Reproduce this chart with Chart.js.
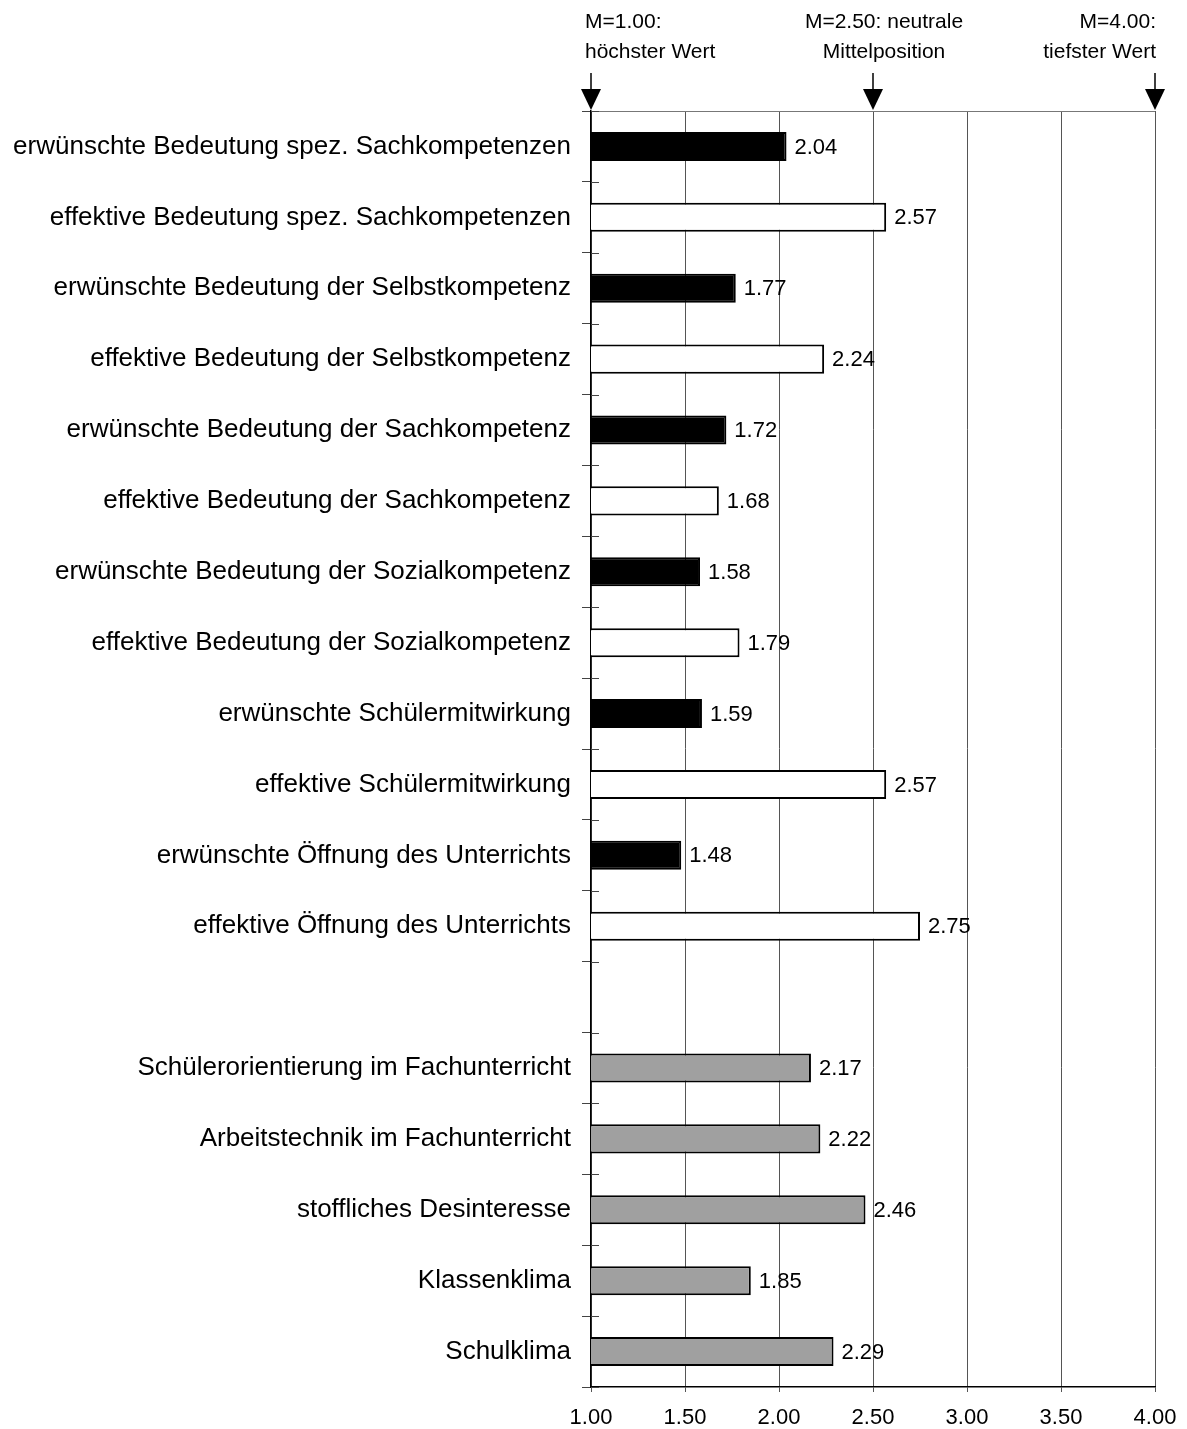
<!DOCTYPE html>
<html>
<head>
<meta charset="utf-8">
<script src="https://cdn.jsdelivr.net/npm/chart.js@4"></script>
<style>
  html, body { margin: 0; padding: 0; background: #fff; }
  #wrap { width: 1187px; height: 1429px; }
</style>
</head>
<body>
<div id="wrap"><canvas id="c" width="1187" height="1429"></canvas></div>
<script>
// Category labels (the empty entry is a spacer row between the two blocks)
const categories = [
  'erwünschte Bedeutung spez. Sachkompetenzen',
  'effektive Bedeutung spez. Sachkompetenzen',
  'erwünschte Bedeutung der Selbstkompetenz',
  'effektive Bedeutung der Selbstkompetenz',
  'erwünschte Bedeutung der Sachkompetenz',
  'effektive Bedeutung der Sachkompetenz',
  'erwünschte Bedeutung der Sozialkompetenz',
  'effektive Bedeutung der Sozialkompetenz',
  'erwünschte Schülermitwirkung',
  'effektive Schülermitwirkung',
  'erwünschte Öffnung des Unterrichts',
  'effektive Öffnung des Unterrichts',
  '',
  'Schülerorientierung im Fachunterricht',
  'Arbeitstechnik im Fachunterricht',
  'stoffliches Desinteresse',
  'Klassenklima',
  'Schulklima'
];

// Mean values (scale 1 = highest, 4 = lowest)
const means = [
  2.04, 2.57, 1.77, 2.24, 1.72, 1.68, 1.58, 1.79, 1.59, 2.57, 1.48, 2.75,
  null,
  2.17, 2.22, 2.46, 1.85, 2.29
];

// Group of each row: desired, effective, or context scale
const groups = [
  'desired', 'effective', 'desired', 'effective', 'desired', 'effective',
  'desired', 'effective', 'desired', 'effective', 'desired', 'effective',
  null,
  'context', 'context', 'context', 'context', 'context'
];

// x-axis tick values
const xTicks = [1.0, 1.5, 2.0, 2.5, 3.0, 3.5, 4.0];

// Reference markers above the chart
const markerValues = [1.0, 2.5, 4.0];
const markerLines = [
  ['M=1.00:', 'höchster Wert'],
  ['M=2.50: neutrale', 'Mittelposition'],
  ['M=4.00:', 'tiefster Wert']
];

const groupColors = { desired: '#000000', effective: '#ffffff', context: '#a0a0a0' };
const FONT = '"Liberation Sans", Arial, Helvetica, sans-serif';

const extras = {
  id: 'extras',
  afterDatasetsDraw(chart) {
    const ctx = chart.ctx;
    const area = chart.chartArea;
    const xs = chart.scales.x;
    const n = categories.length;
    ctx.save();

    // top frame line
    ctx.strokeStyle = '#777';
    ctx.lineWidth = 1;
    ctx.beginPath();
    ctx.moveTo(area.left, area.top + 0.5);
    ctx.lineTo(area.right, area.top + 0.5);
    ctx.stroke();

    // inner half of the category tick marks
    ctx.strokeStyle = '#444';
    for (let i = 0; i <= n; i++) {
      const y = Math.round(area.top + i * (area.bottom - area.top) / n) + 0.5;
      ctx.beginPath();
      ctx.moveTo(area.left, y);
      ctx.lineTo(area.left + 8, y);
      ctx.stroke();
    }

    // value labels next to each bar
    const meta = chart.getDatasetMeta(0);
    ctx.fillStyle = '#000';
    ctx.font = '22px ' + FONT;
    ctx.textAlign = 'left';
    ctx.textBaseline = 'middle';
    meta.data.forEach((el, i) => {
      const v = means[i];
      if (v === null || v === undefined) return;
      ctx.fillText(v.toFixed(2), el.x + 8, el.y + 1);
    });

    // reference markers: text and downward arrows
    ctx.font = '21px ' + FONT;
    ctx.textBaseline = 'alphabetic';
    markerValues.forEach((v, i) => {
      const x = xs.getPixelForValue(v);
      let tx = x, align = 'center';
      if (i === 0) { tx = x - 6; align = 'left'; }
      else if (i === markerValues.length - 1) { tx = x + 1; align = 'right'; }
      else { tx = x + 11; }
      ctx.textAlign = align;
      ctx.fillText(markerLines[i][0], tx, 28);
      ctx.fillText(markerLines[i][1], tx, 58);

      ctx.strokeStyle = '#000';
      ctx.lineWidth = 1.5;
      ctx.beginPath();
      ctx.moveTo(x, 73);
      ctx.lineTo(x, 91);
      ctx.stroke();
      ctx.beginPath();
      ctx.moveTo(x - 10, 89);
      ctx.lineTo(x + 10, 89);
      ctx.lineTo(x, area.top - 1);
      ctx.closePath();
      ctx.fill();
    });

    ctx.restore();
  }
};

new Chart(document.getElementById('c'), {
  type: 'bar',
  data: {
    labels: categories,
    datasets: [{
      data: means,
      backgroundColor: groups.map(g => g ? groupColors[g] : 'transparent'),
      borderColor: '#000',
      borderWidth: 2,
      borderSkipped: false,
      categoryPercentage: 1.0,
      barPercentage: 0.41
    }]
  },
  options: {
    indexAxis: 'y',
    responsive: false,
    animation: false,
    devicePixelRatio: 1,
    layout: { padding: { top: 111, right: 32, left: 0, bottom: 0 } },
    plugins: {
      legend: { display: false },
      tooltip: { enabled: false }
    },
    scales: {
      x: {
        type: 'linear',
        position: 'bottom',
        min: 1,
        max: 4,
        afterBuildTicks(scale) {
          scale.ticks = xTicks.map(v => ({ value: v }));
        },
        afterFit(scale) {
          scale.height = 42;
          scale.paddingLeft = 0;
          scale.paddingRight = 0;
        },
        ticks: {
          color: '#000',
          font: { family: FONT, size: 22 },
          padding: 13,
          maxRotation: 0,
          callback: v => Number(v).toFixed(2)
        },
        grid: {
          color: '#555',
          lineWidth: 1,
          tickLength: 5,
          drawTicks: true
        },
        border: { color: '#000', width: 1.5 }
      },
      y: {
        type: 'category',
        offset: true,
        afterFit(scale) { scale.width = 591; },
        ticks: {
          color: '#000',
          font: { family: FONT, size: 26 },
          padding: 11,
          autoSkip: false
        },
        grid: {
          offset: true,
          drawOnChartArea: false,
          drawTicks: true,
          tickLength: 9,
          color: '#444'
        },
        border: { color: '#000', width: 1.5 }
      }
    }
  },
  plugins: [extras]
});
</script>
</body>
</html>
